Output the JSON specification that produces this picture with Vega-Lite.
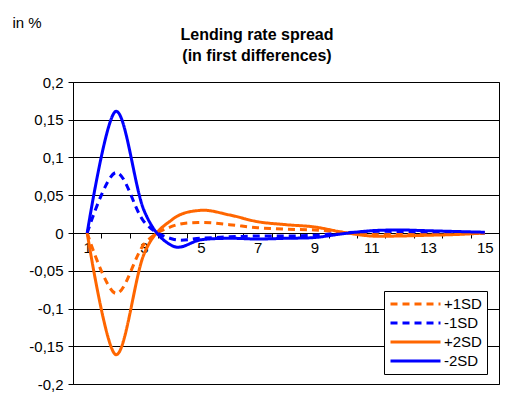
{
  "$schema": "https://vega.github.io/schema/vega-lite/v6.json",
  "width": 426,
  "height": 302,
  "autosize": {"type": "none"},
  "padding": {"left": 73, "top": 82, "right": 6, "bottom": 19},
  "background": "white",
  "config": {
    "font": "Liberation Sans",
    "view": {"stroke": "#000", "strokeWidth": 1}
  },
  "title": {
    "text": ["Lending rate spread", "(in first differences)"],
    "fontSize": 16,
    "fontWeight": "bold",
    "font": "Liberation Sans",
    "color": "#000",
    "anchor": "middle",
    "dx": -29,
    "lineHeight": 21,
    "offset": -49
  },
  "data": {
    "values": [
      {"period": 1, "value": 0, "series": "+1SD"},
      {"period": 2, "value": -0.08, "series": "+1SD"},
      {"period": 3, "value": -0.015, "series": "+1SD"},
      {"period": 4, "value": 0.009, "series": "+1SD"},
      {"period": 5, "value": 0.014, "series": "+1SD"},
      {"period": 6, "value": 0.011, "series": "+1SD"},
      {"period": 7, "value": 0.007, "series": "+1SD"},
      {"period": 8, "value": 0.005, "series": "+1SD"},
      {"period": 9, "value": 0.004, "series": "+1SD"},
      {"period": 10, "value": 0.001, "series": "+1SD"},
      {"period": 11, "value": -0.002, "series": "+1SD"},
      {"period": 12, "value": -0.002, "series": "+1SD"},
      {"period": 13, "value": -0.0015, "series": "+1SD"},
      {"period": 14, "value": -0.001, "series": "+1SD"},
      {"period": 15, "value": 0, "series": "+1SD"},
      {"period": 1, "value": 0, "series": "-1SD"},
      {"period": 2, "value": 0.08, "series": "-1SD"},
      {"period": 3, "value": 0.015, "series": "-1SD"},
      {"period": 4, "value": -0.008, "series": "-1SD"},
      {"period": 5, "value": -0.007, "series": "-1SD"},
      {"period": 6, "value": -0.005, "series": "-1SD"},
      {"period": 7, "value": -0.004, "series": "-1SD"},
      {"period": 8, "value": -0.004, "series": "-1SD"},
      {"period": 9, "value": -0.003, "series": "-1SD"},
      {"period": 10, "value": 0, "series": "-1SD"},
      {"period": 11, "value": 0.002, "series": "-1SD"},
      {"period": 12, "value": 0.002, "series": "-1SD"},
      {"period": 13, "value": 0.0015, "series": "-1SD"},
      {"period": 14, "value": 0.001, "series": "-1SD"},
      {"period": 15, "value": 0, "series": "-1SD"},
      {"period": 1, "value": 0, "series": "+2SD"},
      {"period": 2, "value": -0.161, "series": "+2SD"},
      {"period": 3, "value": -0.028, "series": "+2SD"},
      {"period": 4, "value": 0.018, "series": "+2SD"},
      {"period": 5, "value": 0.03, "series": "+2SD"},
      {"period": 6, "value": 0.024, "series": "+2SD"},
      {"period": 7, "value": 0.015, "series": "+2SD"},
      {"period": 8, "value": 0.011, "series": "+2SD"},
      {"period": 9, "value": 0.008, "series": "+2SD"},
      {"period": 10, "value": 0.001, "series": "+2SD"},
      {"period": 11, "value": -0.004, "series": "+2SD"},
      {"period": 12, "value": -0.004, "series": "+2SD"},
      {"period": 13, "value": -0.003, "series": "+2SD"},
      {"period": 14, "value": -0.002, "series": "+2SD"},
      {"period": 15, "value": 0, "series": "+2SD"},
      {"period": 1, "value": 0, "series": "-2SD"},
      {"period": 2, "value": 0.161, "series": "-2SD"},
      {"period": 3, "value": 0.03, "series": "-2SD"},
      {"period": 4, "value": -0.017, "series": "-2SD"},
      {"period": 5, "value": -0.009, "series": "-2SD"},
      {"period": 6, "value": -0.007, "series": "-2SD"},
      {"period": 7, "value": -0.008, "series": "-2SD"},
      {"period": 8, "value": -0.007, "series": "-2SD"},
      {"period": 9, "value": -0.006, "series": "-2SD"},
      {"period": 10, "value": -0.001, "series": "-2SD"},
      {"period": 11, "value": 0.003, "series": "-2SD"},
      {"period": 12, "value": 0.004, "series": "-2SD"},
      {"period": 13, "value": 0.003, "series": "-2SD"},
      {"period": 14, "value": 0.002, "series": "-2SD"},
      {"period": 15, "value": 0.001, "series": "-2SD"}
    ]
  },
  "mark": {"type": "line", "interpolate": "cardinal", "strokeWidth": 3, "clip": true},
  "encoding": {
    "x": {
      "field": "period",
      "type": "quantitative",
      "scale": {"domain": [0.5, 15.5], "nice": false, "zero": false},
      "axis": {
        "title": null,
        "values": [0.5, 1.5, 2.5, 3.5, 4.5, 5.5, 6.5, 7.5, 8.5, 9.5, 10.5, 11.5, 12.5, 13.5, 14.5, 15.5],
        "labelExpr": "(datum.value - 0.5) % 2 == 0 && datum.value < 15 ? format(datum.value + 0.5, 'd') : ''",
        "labelOffset": 14.2,
        "labelFlush": false,
        "labelOverlap": false,
        "labelBound": false,
        "offset": -151,
        "domain": false,
        "grid": false,
        "ticks": true,
        "tickSize": 5,
        "tickColor": "#000",
        "labelColor": "#000",
        "labelFontSize": 15,
        "labelFont": "Liberation Sans",
        "labelPadding": 2
      }
    },
    "y": {
      "field": "value",
      "type": "quantitative",
      "scale": {"domain": [-0.2, 0.2], "nice": false},
      "axis": {
        "title": "in %",
        "titleAngle": 0,
        "titleAlign": "left",
        "titleBaseline": "alphabetic",
        "titleX": -61,
        "titleY": -55,
        "titleFontSize": 15,
        "titleFontWeight": "normal",
        "titleFont": "Liberation Sans",
        "titleColor": "#000",
        "values": [-0.2, -0.15, -0.1, -0.05, 0, 0.05, 0.1, 0.15, 0.2],
        "labelExpr": "replace(replace(format(datum.value, '.2~f'), '.', ','), '\u2212', '-')",
        "grid": true,
        "gridColor": "#000",
        "gridWidth": 1,
        "gridOpacity": 1,
        "domain": true,
        "domainColor": "#000",
        "tickColor": "#000",
        "tickSize": 5,
        "labelColor": "#000",
        "labelFontSize": 15,
        "labelFont": "Liberation Sans",
        "labelPadding": 5
      }
    },
    "color": {
      "field": "series",
      "type": "nominal",
      "scale": {"domain": ["+1SD", "-1SD", "+2SD", "-2SD"], "range": ["#FF6600", "#0000FF", "#FF6600", "#0000FF"]},
      "legend": {
        "title": null,
        "orient": "none",
        "legendX": 311,
        "legendY": 209,
        "fillColor": "white",
        "strokeColor": "#000",
        "padding": 5,
        "symbolType": "stroke",
        "symbolSize": 2500,
        "symbolStrokeWidth": 3,
        "clipHeight": 16,
        "labelFontSize": 15,
        "labelFont": "Liberation Sans",
        "labelColor": "#000",
        "labelOffset": 2,
        "rowPadding": 3,
        "cornerRadius": 0
      }
    },
    "strokeDash": {
      "field": "series",
      "type": "nominal",
      "scale": {"domain": ["+1SD", "-1SD", "+2SD", "-2SD"], "range": [[7, 5], [7, 5], [1, 0], [1, 0]]},
      "legend": null
    }
  }
}
